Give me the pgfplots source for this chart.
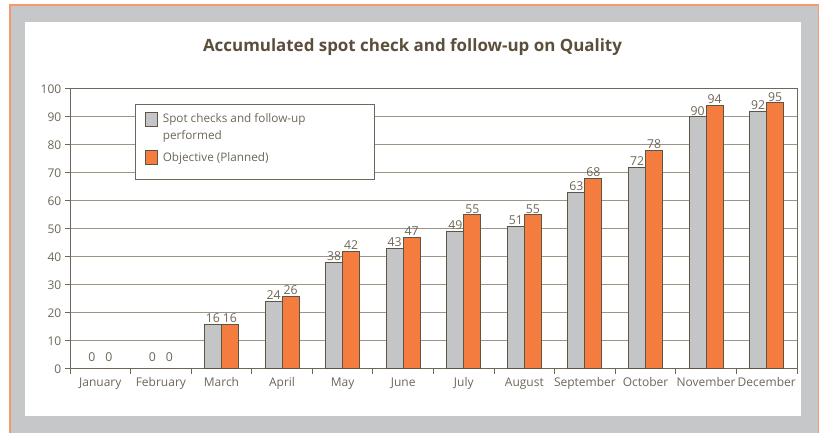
\documentclass[border=0pt]{standalone}
\usepackage{fontspec}
\setmainfont{Open Sans}
\usepackage{pgfplots}
\pgfplotsset{compat=1.18}
\definecolor{barGray}{HTML}{C4C5C7}
\definecolor{barOrange}{HTML}{F47C3E}
\definecolor{barEdge}{HTML}{5E5444}
\definecolor{gridcol}{HTML}{9C9586}
\definecolor{axiscol}{HTML}{6F6858}
\definecolor{labcol}{HTML}{6E6759}
\definecolor{titlecol}{HTML}{5B4F3C}
\definecolor{framegray}{HTML}{C6C7C9}
\definecolor{frameorange}{HTML}{F49A70}
\definecolor{legcol}{HTML}{6E6656}
\DeclareRobustCommand\zerolab{\raisebox{4.5pt}{0}}
\pgfplotsset{
  legA/.style={legend image code/.code={\draw[##1, line width=0.75pt] (0pt,-5.25pt) rectangle (9pt,5.25pt); \path (-2.25pt,-16.5pt) (10.5pt,0pt);}},
  legB/.style={legend image code/.code={\draw[##1, line width=0.75pt] (0pt,-5.25pt) rectangle (9pt,5.25pt); \path (-2.25pt,-10.5pt) (10.5pt,0pt);}},
}
\begin{document}
\begin{tikzpicture}
\useasboundingbox (0pt,0pt) rectangle (615.75pt,324pt);
\fill[white] (0pt,0pt) rectangle (615.75pt,324pt);
\fill[framegray] (7.5pt,-5pt) rectangle (614pt,320.25pt);
\draw[frameorange, line width=1.2pt] (7.5pt,-5pt) -- (7.5pt,320.25pt) -- (614pt,320.25pt) -- (614pt,-5pt);
\fill[white] (18.75pt,12pt) rectangle (600.75pt,307.5pt);
\node[anchor=base, font=\bfseries\fontsize{12.7}{14}\selectfont, text=titlecol] at (309.4pt,285pt) {Accumulated spot check and follow-up on Quality};
\begin{axis}[
  at={(52.5pt,47.25pt)}, anchor=south west,
  scale only axis, width=545.25pt, height=210pt,
  xmin=-0.5, xmax=11.5, ymin=0, ymax=100,
  ybar=0pt, bar width=12.75pt,
  axis line style={draw=axiscol, line width=0.75pt},
  ytick={0,10,...,100},
  ymajorgrids, grid style={draw=gridcol, line width=0.75pt},
  tick align=outside, major tick length=3.5pt,
  tick style={draw=axiscol, line width=0.75pt},
  xtick pos=bottom, ytick pos=left,
  xtick={-0.5,0.5,...,11.5}, xticklabels={},
  extra x ticks={0,1,2,3,4,5,6,7,8,9,10,11},
  extra x tick labels={January,February,March,April,May,June,July,August,September,October,November,December},
  extra x tick style={major tick length=0pt, grid=none, xticklabel style={yshift=-3pt}},
  /pgf/number format/assume math mode=true,
  ticklabel style={font=\fontsize{9}{10}\selectfont, text=labcol},
  yticklabel style={xshift=0.5pt},
  point meta=explicit symbolic,
  nodes near coords,
  every node near coord/.append style={font=\fontsize{9.2}{10}\selectfont, text=labcol, inner sep=1pt},
  legend style={at={(0.0894,0.9464)}, anchor=north west, draw=legcol, line width=0.75pt, fill=white,
    font=\fontsize{8.8}{12.5}\selectfont, text=labcol, row sep=6pt, inner xsep=5pt, inner ysep=5pt},
  legend cell align=left,
]
\addplot[fill=barGray, draw=barEdge, line width=0.75pt, legA] coordinates {
(0,0) [\zerolab] (1,0) [\zerolab] (2,16) [16] (3,24) [24] (4,38) [38] (5,43) [43]
(6,49) [49] (7,51) [51] (8,63) [63] (9,72) [72] (10,90) [90] (11,92) [92]};
\addlegendentry{\parbox[t]{152pt}{Spot checks and follow-up\\performed}}
\addplot[fill=barOrange, draw=barEdge, line width=0.75pt, legB] coordinates {
(0,0) [\zerolab] (1,0) [\zerolab] (2,16) [16] (3,26) [26] (4,42) [42] (5,47) [47]
(6,55) [55] (7,55) [55] (8,68) [68] (9,78) [78] (10,94) [94] (11,95) [95]};
\addlegendentry{\parbox[t]{152pt}{Objective (Planned)}}
\end{axis}
\end{tikzpicture}
\end{document}
